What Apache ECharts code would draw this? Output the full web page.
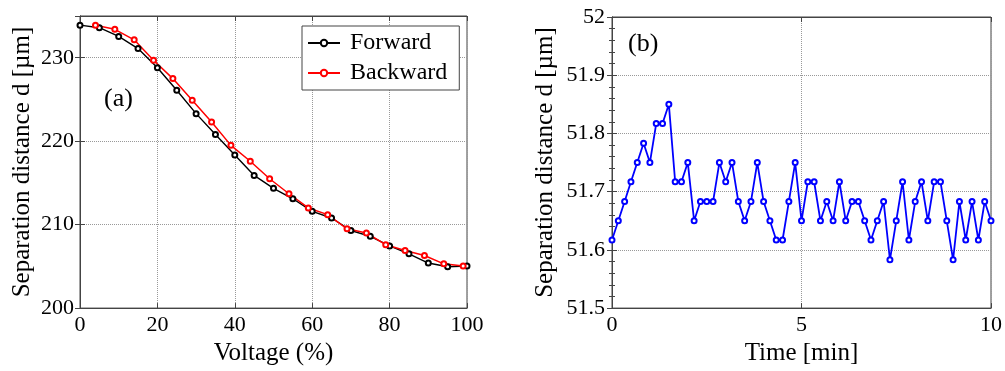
<!DOCTYPE html>
<html>
<head>
<meta charset="utf-8">
<title>Separation distance</title>
<script src="https://cdn.jsdelivr.net/npm/echarts@6/dist/echarts.min.js"></script>
<style>
  html, body { margin: 0; padding: 0; background: #fff; }
  #chart { width: 1005px; height: 371px; }
</style>
</head>
<body>
<div id="chart"></div>
<script>
// (a) separation vs. voltage
const forwardVoltage = [0, 5, 10, 15, 20, 25, 30, 35, 40, 45, 50, 55, 60, 65, 70, 75, 80, 85, 90, 95, 100];
const forwardDistance = [233.9, 233.6, 232.55, 231.1, 228.8, 226.1, 223.3, 220.8, 218.35, 215.9, 214.35,
    213.1, 211.6, 210.8, 209.3, 208.6, 207.45, 206.5, 205.4, 204.95, 205.05];
const backwardVoltage = [4, 9, 14, 19, 24, 29, 34, 39, 44, 49, 54, 59, 64, 69, 74, 79, 84, 89, 94, 99];
const backwardDistance = [233.9, 233.4, 232.15, 229.7, 227.5, 224.9, 222.3, 219.5, 217.6, 215.5,
    213.7, 212.0, 211.2, 209.5, 209.0, 207.6, 206.9, 206.3, 205.3, 205.05];

// (b) separation vs. time, one sample every 10 s
const timeSec = [0, 10, 20, 30, 40, 50, 60, 70, 80, 90, 100, 110, 120, 130, 140, 150, 160, 170, 180, 190,
    200, 210, 220, 230, 240, 250, 260, 270, 280, 290, 300, 310, 320, 330, 340, 350, 360, 370, 380, 390,
    400, 410, 420, 430, 440, 450, 460, 470, 480, 490, 500, 510, 520, 530, 540, 550, 560, 570, 580, 590, 600];
const timeDistance = [51.617, 51.65, 51.683, 51.717, 51.75, 51.783, 51.75, 51.817, 51.817, 51.85,
    51.717, 51.717, 51.75, 51.65, 51.683, 51.683, 51.683, 51.75, 51.717, 51.75,
    51.683, 51.65, 51.683, 51.75, 51.683, 51.65, 51.617, 51.617, 51.683, 51.75,
    51.65, 51.717, 51.717, 51.65, 51.683, 51.65, 51.717, 51.65, 51.683, 51.683,
    51.65, 51.617, 51.65, 51.683, 51.583, 51.65, 51.717, 51.617, 51.683, 51.717,
    51.65, 51.717, 51.717, 51.65, 51.583, 51.683, 51.617, 51.683, 51.617, 51.683, 51.65];

const voltageTicks = [0, 20, 40, 60, 80, 100];
const distanceTicksA = [200, 210, 220, 230];
const timeTicks = [0, 5, 10];
const distanceTicksB = [51.5, 51.6, 51.7, 51.8, 51.9, 52];

const FONT = 'Liberation Serif';
const AXIS_COLOR = '#444';

let myChart = echarts.init(document.getElementById('chart'));
let option;

function pairs(xs, ys, scale) {
    return xs.map(function (x, i) { return [x * (scale || 1), ys[i]]; });
}

function labelStyle(extra) {
    return Object.assign({ color: '#000', fontFamily: FONT, fontSize: 22, margin: 6 }, extra);
}

function mainAxis(extra) {
    return Object.assign({
        type: 'value',
        axisLine: { show: true, lineStyle: { color: AXIS_COLOR, width: 1 } },
        axisTick: { show: true, inside: true, length: 5, lineStyle: { color: AXIS_COLOR } },
        axisLabel: labelStyle(),
        splitLine: { show: true, lineStyle: { color: '#999', type: 'dotted', width: 1 } },
        nameLocation: 'middle',
        nameTextStyle: { color: '#000', fontFamily: FONT, fontSize: 25 }
    }, extra);
}

// mirror axes for the ticks on top / right of each box
function mirrorAxis(extra) {
    return Object.assign({
        type: 'value',
        axisLine: { show: true, lineStyle: { color: AXIS_COLOR, width: 1 } },
        axisTick: { show: true, inside: true, length: 5, lineStyle: { color: AXIS_COLOR } },
        axisLabel: { show: false },
        splitLine: { show: false }
    }, extra);
}

function lineSeries(name, color, width, data, xi, yi) {
    return {
        name: name,
        type: 'line',
        xAxisIndex: xi, yAxisIndex: yi,
        data: data,
        symbol: 'emptyCircle',
        symbolSize: 5,
        showAllSymbol: true,
        color: color,
        lineStyle: { color: color, width: width },
        itemStyle: { color: color, borderWidth: 1.2 }
    };
}

option = {
    animation: false,
    backgroundColor: '#fff',
    textStyle: { fontFamily: FONT },
    grid: [
        { left: 80, top: 16, width: 387, height: 299, show: true, borderColor: AXIS_COLOR, borderWidth: 1 },
        { left: 612, top: 17, width: 380, height: 298, show: true, borderColor: AXIS_COLOR, borderWidth: 1 }
    ],
    legend: {
        data: ['Forward', 'Backward'],
        orient: 'vertical',
        left: 302,
        top: 26,
        itemWidth: 32,
        itemHeight: 8,
        itemGap: 6,
        padding: [5, 12, 5, 5],
        borderColor: AXIS_COLOR,
        borderWidth: 1,
        backgroundColor: '#fff',
        textStyle: { fontFamily: FONT, fontSize: 24, lineHeight: 24, color: '#000', padding: [0, 0, 0, 5] }
    },
    graphic: [
        { type: 'text', left: 104, top: 86, style: { text: '(a)', font: '26px "Liberation Serif"', fill: '#000' } },
        { type: 'text', left: 628, top: 31, style: { text: '(b)', font: '26px "Liberation Serif"', fill: '#000' } }
    ],
    xAxis: [
        mainAxis({
            gridIndex: 0, position: 'bottom',
            min: voltageTicks[0], max: voltageTicks[voltageTicks.length - 1], interval: 20,
            name: 'Voltage (%)', nameGap: 26
        }),
        mirrorAxis({ gridIndex: 0, position: 'top', min: 0, max: 100, interval: 20 }),
        mainAxis({
            gridIndex: 1, position: 'bottom',
            min: timeTicks[0], max: timeTicks[timeTicks.length - 1], interval: 5,
            name: 'Time [min]', nameGap: 26
        }),
        mirrorAxis({ gridIndex: 1, position: 'top', min: 0, max: 10, interval: 5 })
    ],
    yAxis: [
        mainAxis({
            gridIndex: 0, position: 'left',
            min: distanceTicksA[0], max: 235, interval: 10,
            name: 'Separation distance d [\u00b5m]', nameGap: 45,
            axisLabel: labelStyle({
                formatter: function (v) { return distanceTicksA.indexOf(v) >= 0 ? String(v) : ''; }
            })
        }),
        mirrorAxis({ gridIndex: 0, position: 'right', min: 200, max: 235, interval: 10 }),
        mainAxis({
            gridIndex: 1, position: 'left',
            min: distanceTicksB[0], max: distanceTicksB[distanceTicksB.length - 1], interval: 0.1,
            name: 'Separation distance d [\u00b5m]', nameGap: 54,
            minorTick: { show: true, splitNumber: 5, length: 3, lineStyle: { color: AXIS_COLOR } },
            axisLabel: labelStyle({
                margin: 7,
                formatter: function (v) { return String(Math.round(v * 10) / 10); }
            })
        }),
        mirrorAxis({
            gridIndex: 1, position: 'right', min: 51.5, max: 52, interval: 0.1,
            minorTick: { show: true, splitNumber: 5, length: 3, lineStyle: { color: AXIS_COLOR } }
        })
    ],
    series: [
        lineSeries('Forward', '#000000', 1.4, pairs(forwardVoltage, forwardDistance), 0, 0),
        lineSeries('Backward', '#ff0000', 1.5, pairs(backwardVoltage, backwardDistance), 0, 0),
        lineSeries('Time', '#0000ff', 1.8, pairs(timeSec, timeDistance, 1 / 60), 2, 2)
    ]
};

option && myChart.setOption(option);
</script>
</body>
</html>
